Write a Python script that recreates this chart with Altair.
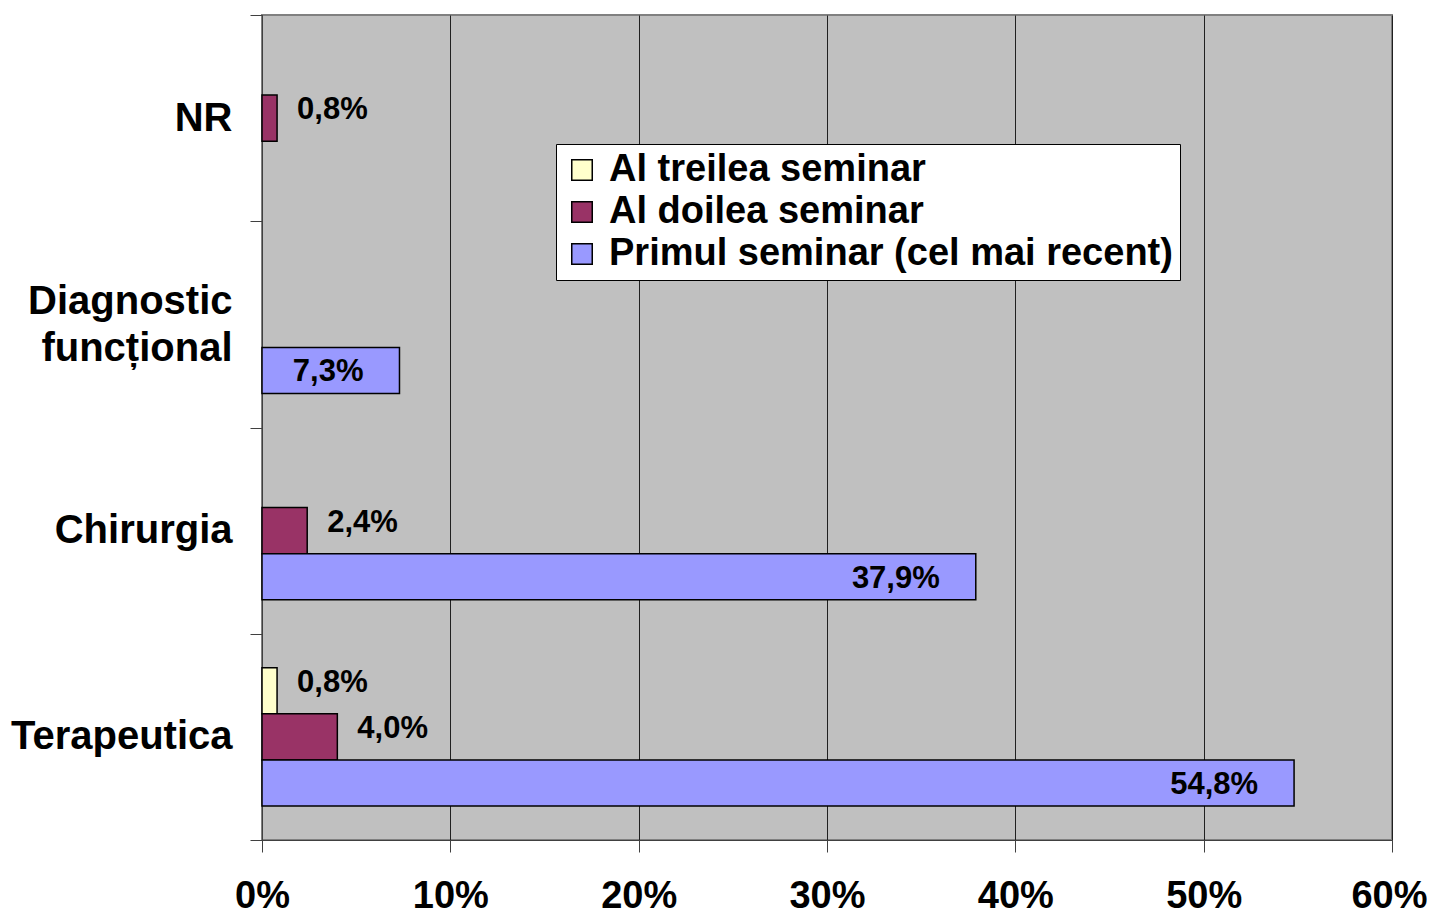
import altair as alt
import pandas as pd

categories = ["NR", "Diagnostic funcțional", "Chirurgia", "Terapeutica"]
series = ["Al treilea seminar", "Al doilea seminar", "Primul seminar (cel mai recent)"]
colors = ["#FFFFCC", "#993366", "#9999FF"]

rows_cat = ["NR", "Diagnostic funcțional", "Chirurgia", "Chirurgia", "Terapeutica", "Terapeutica", "Terapeutica"]
rows_series = ["Al doilea seminar", "Primul seminar (cel mai recent)", "Al doilea seminar",
               "Primul seminar (cel mai recent)", "Al treilea seminar", "Al doilea seminar",
               "Primul seminar (cel mai recent)"]
rows_value = [0.8, 7.3, 2.4, 37.9, 0.8, 4.0, 54.8]

df = pd.DataFrame({"cat": rows_cat, "ser": rows_series, "val": rows_value})
df["lbl"] = [f"{v:.1f}".replace(".", ",") + "%" for v in df["val"]]

FONT = "Liberation Sans"

y_enc = alt.Y("cat:N", sort=categories,
              scale=alt.Scale(domain=categories, paddingInner=0, paddingOuter=0),
              axis=alt.Axis(title=None, labelFont=FONT, labelFontSize=40, labelFontWeight="bold",
                            labelColor="black", tickBand="extent", tickSize=12,
                            tickColor="#404040", domainColor="#404040", labelPadding=18,
                            labelLimit=400, labelLineHeight=47,
                            labelOffset={"condition": {"test": "datum.label == 'Diagnostic funcțional'", "value": -23}, "value": 0},
                            labelExpr="datum.label == 'Diagnostic funcțional' ? ['Diagnostic', 'funcțional'] : datum.label"))
yoff_enc = alt.YOffset("ser:N", sort=series,
                       scale=alt.Scale(domain=series, paddingInner=0, paddingOuter=0.74))
x_enc = alt.X("val:Q", scale=alt.Scale(domain=[0, 60], nice=False),
              axis=alt.Axis(title=None, values=[0, 10, 20, 30, 40, 50, 60],
                            labelExpr="datum.value + '%'", labelFont=FONT, labelFontSize=38,
                            labelFontWeight="bold", labelColor="black", tickSize=12,
                            tickColor="#404040", domainColor="#404040", labelPadding=25,
                            labelOffset={"condition": {"test": "datum.value == 60", "value": -3}, "value": 0},
                            grid=True, gridColor="#202020", gridWidth=1, labelFlush=False))

bars = alt.Chart(df).mark_bar(stroke="black", strokeWidth=1.5).encode(
    y=y_enc, yOffset=yoff_enc, x=x_enc,
    color=alt.Color("ser:N", sort=series,
                    scale=alt.Scale(domain=series, range=colors),
                    legend=alt.Legend(title=None, orient="none", legendX=294, legendY=129,
                                      fillColor="white", strokeColor="black", padding=7,
                                      labelFont=FONT, labelFontSize=38, labelFontWeight="bold",
                                      labelColor="black", labelLimit=900, symbolType="square",
                                      symbolSize=420, symbolStrokeColor="black",
                                      symbolStrokeWidth=1.5, rowPadding=4, labelOffset=8,
                                      symbolOpacity=1)),
)

inside = alt.Chart(df).transform_filter(
    alt.datum.ser == "Primul seminar (cel mai recent)"
).mark_text(align="right", baseline="middle", dx=-36, dy=2, font=FONT, fontSize=31,
            fontWeight="bold", color="black").encode(
    y=alt.Y("cat:N", sort=categories), yOffset=alt.YOffset("ser:N", sort=series),
    x="val:Q", text="lbl:N")

outside = alt.Chart(df).transform_filter(
    alt.datum.ser != "Primul seminar (cel mai recent)"
).mark_text(align="left", baseline="middle", dx=20, dy=-8, font=FONT, fontSize=31,
            fontWeight="bold", color="black").encode(
    y=alt.Y("cat:N", sort=categories), yOffset=alt.YOffset("ser:N", sort=series),
    x="val:Q", text="lbl:N")

chart = alt.layer(bars, inside, outside).properties(
    width=1130, height=825,
    autosize=alt.AutoSizeParams(type="none"),
    padding={"top": 7, "left": 254, "right": 35, "bottom": 76},
    background="white",
).configure_view(fill="#C0C0C0", stroke="#808080", strokeWidth=2)

chart.save("out.html", embed_options={"renderer": "svg", "actions": False})
